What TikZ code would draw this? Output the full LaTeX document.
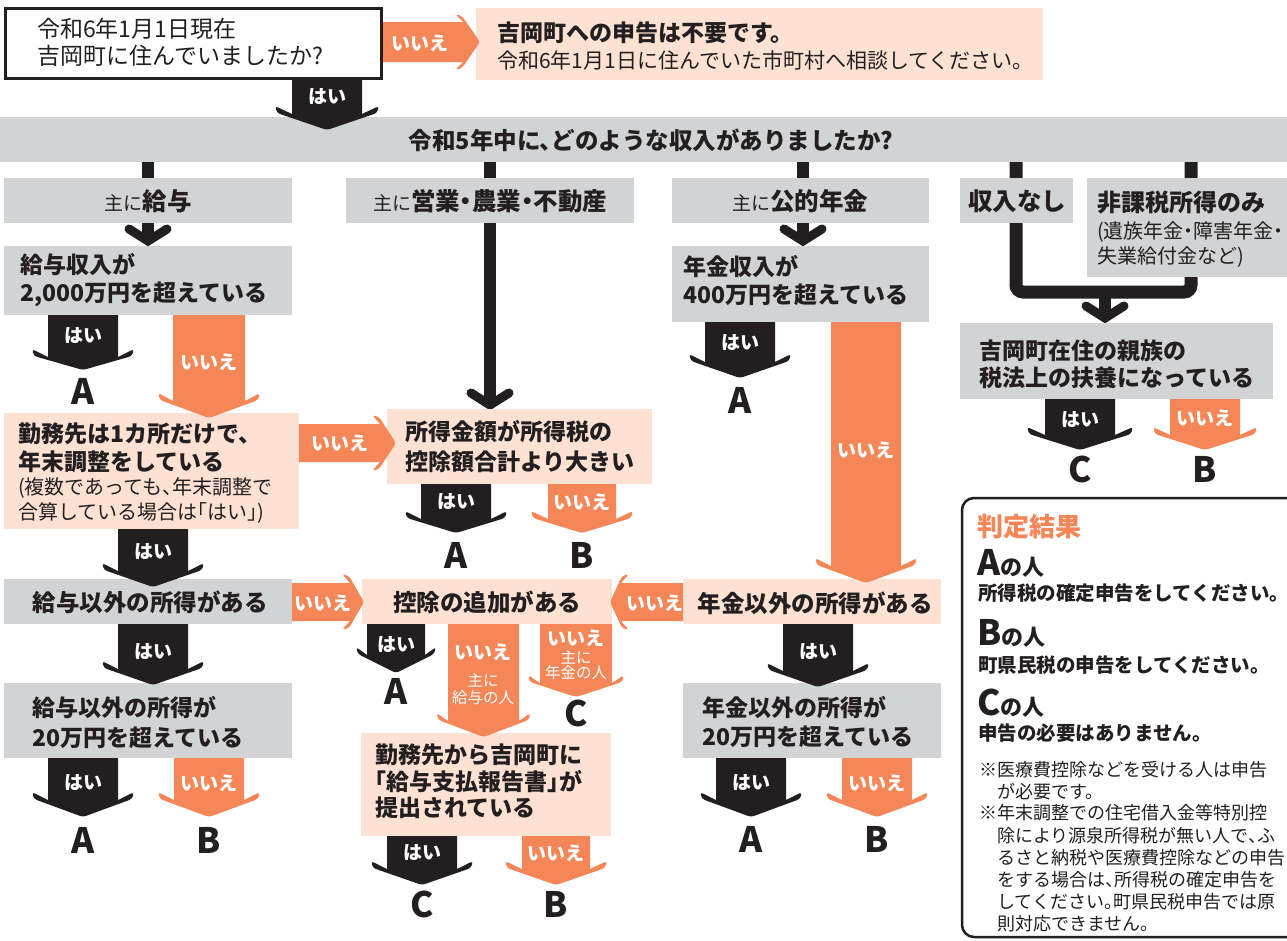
\documentclass[tikz,border=0pt]{standalone}
\usepackage{fontspec}
\setmainfont{Noto Sans CJK JP}[RawFeature=+halt]
\definecolor{gbox}{HTML}{D1D3D4}
\definecolor{pbox}{HTML}{FDE2D4}
\definecolor{orng}{HTML}{F58657}
\definecolor{blk}{HTML}{231F20}
\newcommand\fs[2]{\fontsize{#1pt}{#2pt}\selectfont}
% down block arrow: color, xc, ytop, halfwidth, yshaftbottom, headhalf, ytip
\newcommand\darr[7]{\fill[#1] ({#2-#4},#3) -- ({#2-#4},#5) [rounded corners=3pt] -- ({#2-#6},{#5-8}) -- ({#2-#6+2},{#5-1}) -- (#2,#7) -- ({#2+#6-2},{#5-1}) -- ({#2+#6},{#5-8}) [sharp corners] -- ({#2+#4},#5) -- ({#2+#4},#3) -- cycle;}
% right block arrow: color, yc, xleft, halfwidth, xshaftend, headhalf, xtip
\newcommand\rarr[7]{\fill[#1] (#3,{#2-#4}) -- (#5,{#2-#4}) [rounded corners=3pt] -- ({#5-8},{#2-#6}) -- ({#5-1},{#2-#6+2}) -- (#7,#2) -- ({#5-1},{#2+#6-2}) -- ({#5-8},{#2+#6}) [sharp corners] -- (#5,{#2+#4}) -- (#3,{#2+#4}) -- cycle;}
% left block arrow: color, yc, xright, halfwidth, xshaftend, headhalf, xtip
\newcommand\larr[7]{\fill[#1] (#3,{#2-#4}) -- (#5,{#2-#4}) [rounded corners=3pt] -- ({#5+8},{#2-#6}) -- ({#5+1},{#2-#6+2}) -- (#7,#2) -- ({#5+1},{#2+#6-2}) -- ({#5+8},{#2+#6}) [sharp corners] -- (#5,{#2+#4}) -- (#3,{#2+#4}) -- cycle;}
% thin arrow with chevron head: x, ystart, ytip
\newcommand\thinarr[3]{\draw[blk, line width=12pt] (#1,#2) -- (#1,{#3-8});
\draw[blk, line width=9pt, line cap=round, line join=miter] ({#1-19},{#3-17}) -- (#1,{#3-5}) -- ({#1+19},{#3-17});}
\begin{document}
\begin{tikzpicture}[x=1pt,y=-1pt,
  lbl/.style={text=white, font=\fs{19}{22}\bfseries, inner sep=0pt},
  sml/.style={text=white, font=\fs{15.5}{18}, inner sep=0pt},
  res/.style={text=blk, font=\fs{35}{38}\bfseries, inner sep=0pt},
  btx/.style={text=blk, font=\fs{23}{28}\bfseries, align=left, anchor=west, inner sep=0pt},
  rtx/.style={text=blk, font=\fs{20}{25}, align=left, anchor=west, inner sep=0pt},
  ctx/.style={text=blk, inner sep=0pt},
]
\useasboundingbox (0,0) rectangle (1287,940);
\clip (0,0) rectangle (1287,940);
\fill[white] (0,0) rectangle (1287,940);
% ---------- top ----------
\fill[gbox] (0,117) rectangle (1287,162);
\fill[pbox] (476,8) rectangle (1043,80);
\fill[white] (4,7) rectangle (383,80);
\draw[blk,line width=3pt] (5.5,8.5) rectangle (381.5,78.5);
% ---------- thin connectors ----------
\thinarr{148}{162}{246}
\thinarr{490}{162}{410}
\thinarr{803}{162}{246}
\draw[blk, line width=13pt, rounded corners=7pt] (1016,162) -- (1016,292) -- (1191,292) -- (1191,162);
\thinarr{1105}{292}{323}
% ---------- boxes ----------
\fill[gbox] (4,178) rectangle (292,223);
\fill[gbox] (346,178) rectangle (634,223);
\fill[gbox] (672,178) rectangle (929,223);
\fill[gbox] (960,178) rectangle (1073,223);
\fill[gbox] (1087,178) rectangle (1287,277);
\fill[gbox] (4,246) rectangle (292,315);
\fill[gbox] (672,246) rectangle (929,322);
\fill[gbox] (960,323) rectangle (1273,399);
\fill[pbox] (4,413) rectangle (299,529);
\fill[pbox] (387,409) rectangle (652,484);
\fill[gbox] (4,579) rectangle (292,624);
\fill[pbox] (362,579) rectangle (612,624);
\fill[pbox] (683,579) rectangle (941,624);
\fill[gbox] (4,683) rectangle (292,758);
\fill[gbox] (683,683) rectangle (941,758);
\fill[pbox] (361,733) rectangle (611,836);
\draw[blk, line width=2.5pt, rounded corners=12pt] (962,498) rectangle (1320,937);
% ---------- block arrows ----------
\rarr{orng}{42}{383}{20}{463}{28}{480}
\darr{blk}{327}{80}{35}{114}{52}{130}
\darr{blk}{83}{315}{35}{357}{51}{370}
\darr{orng}{209}{315}{36}{401}{51}{418}
\rarr{orng}{443}{299}{19}{380}{28}{396}
\darr{blk}{456}{484}{35}{519}{51}{533}
\darr{orng}{582}{484}{34}{519}{51}{533}
\darr{blk}{153}{529}{35}{571}{51}{587}
\rarr{orng}{602}{292}{19}{350}{28}{364}
\larr{orng}{602}{683}{19}{621}{28}{610}
\darr{blk}{740}{322}{35}{362}{51}{378}
\darr{orng}{866}{322}{35}{566}{51}{583}
\darr{blk}{396}{624}{29}{655}{40}{673}
\darr{orng}{483.5}{624}{35.5}{721}{47}{737}
\darr{orng}{576}{624}{36}{683}{48}{697}
\darr{blk}{422}{836}{35}{869}{51}{885}
\darr{orng}{556}{836}{34}{869}{51}{885}
\darr{blk}{153}{624}{35}{669}{51}{685}
\darr{blk}{83}{758}{35}{800}{51}{817}
\darr{orng}{209}{758}{35}{800}{51}{817}
\darr{blk}{818}{624}{35}{671}{51}{687}
\darr{blk}{751}{758}{35}{800}{51}{817}
\darr{orng}{877}{758}{35}{800}{51}{817}
\darr{blk}{1080}{399}{35}{435}{53}{450}
\darr{orng}{1205}{399}{35}{435}{52}{450}
% ---------- texts ----------
\node[ctx, align=left, anchor=west, font=\fs{23}{27}] (q1) at (37,42) {令和6年1月1日現在\\吉岡町に住んでいましたか?};
\node[ctx, anchor=west, font=\fs{23}{27}\bfseries] (n1a) at (497,33) {吉岡町への申告は不要です。};
\node[ctx, anchor=west, font=\fs{21}{25}] (n1b) at (497,60) {令和6年1月1日に住んでいた市町村へ相談してください。};
\node[ctx, font=\fs{23.5}{27}\bfseries] (q2) at (651,140) {令和5年中に、どのような収入がありましたか?};
\node[ctx] (c1) at (148,201) {{\fs{19}{24}主に}{\fs{24.5}{28}\bfseries 給与}};
\node[ctx] (c2) at (490,201) {{\fs{19}{24}主に}{\fs{24.5}{28}\bfseries 営業・農業・不動産}};
\node[ctx] (c3) at (800,201) {{\fs{19}{24}主に}{\fs{24.5}{28}\bfseries 公的年金}};
\node[ctx, font=\fs{24.5}{28}\bfseries] (c4) at (1017,201) {収入なし};
\node[ctx, anchor=west, font=\fs{24}{28}\bfseries] (c5) at (1097,203) {非課税所得のみ};
\node[rtx] (c5b) at (1097,244.5) {(遺族年金・障害年金・\\失業給付金など)};
\node[btx] (q3) at (20,280.5) {給与収入が\\2,000万円を超えている};
\node[btx] (q4) at (683,281) {年金収入が\\400万円を超えている};
\node[btx, font=\fs{23}{27}\bfseries] (q5) at (979,364.5) {吉岡町在住の親族の\\税法上の扶養になっている};
\node[btx] (q6) at (18,448) {勤務先は1カ所だけで、\\年末調整をしている};
\node[rtx] (q6b) at (18,500.5) {(複数であっても、年末調整で\\合算している場合は「はい」)};
\node[btx, font=\fs{23}{30}\bfseries] (q7) at (405,447) {所得金額が所得税の\\控除額合計より大きい};
\node[ctx, font=\fs{23.5}{28}\bfseries] (q8) at (150,602) {給与以外の所得がある};
\node[ctx, font=\fs{23.5}{28}\bfseries] (q9) at (487,602) {控除の追加がある};
\node[ctx, font=\fs{23.5}{28}\bfseries] (q10) at (815,603) {年金以外の所得がある};
\node[btx, font=\fs{23}{30}\bfseries] (q11) at (32,722) {給与以外の所得が\\20万円を超えている};
\node[btx, font=\fs{23}{29}\bfseries] (q12) at (702,721.5) {年金以外の所得が\\20万円を超えている};
\node[btx, font=\fs{23}{26.5}\bfseries] (q13) at (375,781.5) {勤務先から吉岡町に\\「給与支払報告書」が\\提出されている};
% ---------- arrow labels ----------
\node[lbl] (l1) at (420,43) {いいえ};
\node[lbl] (l2) at (327,97) {はい};
\node[lbl] (l3) at (83,336) {はい};
\node[lbl] (l4) at (209,362) {いいえ};
\node[lbl] (l5) at (340,443) {いいえ};
\node[lbl] (l6) at (456,502) {はい};
\node[lbl] (l7) at (582,502) {いいえ};
\node[lbl] (l8) at (153,552) {はい};
\node[lbl] (l9) at (323,603) {いいえ};
\node[lbl] (l10) at (655,603) {いいえ};
\node[lbl] (l11) at (740,343) {はい};
\node[lbl] (l12) at (866,450) {いいえ};
\node[lbl] (l13) at (396,645) {はい};
\node[lbl] (l14) at (483,652) {いいえ};
\node[sml] (l14b) at (483,680) {主に};
\node[sml] (l14c) at (483,698) {給与の人};
\node[lbl] (l15) at (576,638) {いいえ};
\node[sml] (l15b) at (576,657) {主に};
\node[sml] (l15c) at (576,673) {年金の人};
\node[lbl] (l16) at (422,853) {はい};
\node[lbl] (l17) at (556,853) {いいえ};
\node[lbl] (l18) at (153,652) {はい};
\node[lbl] (l19) at (83,783) {はい};
\node[lbl] (l20) at (209,783) {いいえ};
\node[lbl] (l21) at (818,652) {はい};
\node[lbl] (l22) at (751,783) {はい};
\node[lbl] (l23) at (877,783) {いいえ};
\node[lbl] (l24) at (1080,420) {はい};
\node[lbl] (l25) at (1205,418) {いいえ};
% ---------- results ----------
\node[res] (r1) at (83,391) {A};
\node[res] (r2) at (456,555) {A};
\node[res] (r3) at (582,555) {B};
\node[res] (r4) at (740,400) {A};
\node[res] (r5) at (396,691) {A};
\node[res] (r6) at (576,713) {C};
\node[res] (r7) at (422,904) {C};
\node[res] (r8) at (556,904) {B};
\node[res] (r9) at (83,840) {A};
\node[res] (r10) at (209,840) {B};
\node[res] (r11) at (751,839) {A};
\node[res] (r12) at (877,839) {B};
\node[res] (r13) at (1080,469) {C};
\node[res] (r14) at (1205,469) {B};
% ---------- legend ----------
\node[ctx, anchor=west, text=orng, font=\fs{26}{30}\bfseries] (jt) at (977,527) {判定結果};
\node[ctx, anchor=base west] (ja) at (977,575) {{\fs{35}{38}\bfseries A}{\fs{22}{26}\bfseries の人}};
\node[ctx, anchor=west, font=\fs{19.5}{24}\bfseries] (jat) at (978,593) {所得税の確定申告をしてください。};
\node[ctx, anchor=base west] (jb) at (977,645) {{\fs{35}{38}\bfseries B}{\fs{22}{26}\bfseries の人}};
\node[ctx, anchor=west, font=\fs{19.5}{24}\bfseries] (jbt) at (978,665) {町県民税の申告をしてください。};
\node[ctx, anchor=base west] (jc) at (977,715) {{\fs{35}{38}\bfseries C}{\fs{22}{26}\bfseries の人}};
\node[ctx, anchor=west, font=\fs{19.5}{24}\bfseries] (jct) at (978,733) {申告の必要はありません。};
\node[ctx, anchor=west, align=left, font=\fs{18}{22}] (nt1) at (979,781) {※医療費控除などを受ける人は申告\\\phantom{※}が必要です。};
\node[ctx, anchor=west, align=left, font=\fs{18}{22.2}] (nt2) at (979,868.5) {※年末調整での住宅借入金等特別控\\\phantom{※}除により源泉所得税が無い人で、ふ\\\phantom{※}るさと納税や医療費控除などの申告\\\phantom{※}をする場合は、所得税の確定申告を\\\phantom{※}してください。町県民税申告では原\\\phantom{※}則対応できません。};
\end{tikzpicture}
\end{document}
